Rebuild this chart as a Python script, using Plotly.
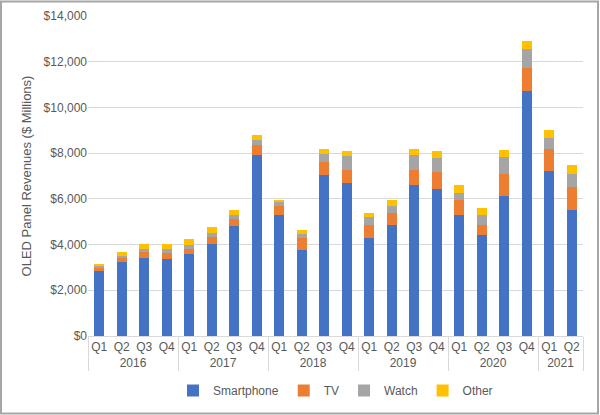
import plotly.graph_objects as go

years = ["2016"] * 4 + ["2017"] * 4 + ["2018"] * 4 + ["2019"] * 4 + ["2020"] * 4 + ["2021"] * 2
quarters = ["Q1", "Q2", "Q3", "Q4"] * 5 + ["Q1", "Q2"]

smartphone = [2840, 3235, 3425, 3365, 3600, 4040, 4800, 7940, 5280, 3745, 7030, 6710,
              4300, 4840, 6620, 6450, 5310, 4415, 6125, 10710, 7205, 5530]
tv = [175, 220, 245, 280, 220, 290, 320, 405, 425, 525, 570, 570,
      540, 555, 625, 725, 625, 455, 950, 1020, 965, 990]
watch = [45, 60, 150, 175, 175, 190, 190, 250, 160, 190, 380, 600,
         365, 290, 655, 630, 335, 405, 760, 830, 510, 555]
other = [105, 145, 218, 188, 245, 260, 190, 190, 105, 160, 200, 220,
         175, 250, 280, 305, 320, 305, 290, 340, 350, 425]

series = [("Smartphone", smartphone, "#4472C4"),
          ("TV", tv, "#ED7D31"),
          ("Watch", watch, "#A5A5A5"),
          ("Other", other, "#FFC000")]

fig = go.Figure()
for name, vals, col in series:
    fig.add_trace(go.Bar(x=[years, quarters], y=vals, name=name,
                         marker=dict(color=col, line=dict(width=0))))

W, H = 600, 415
ml, mr, mt, mb = 88, 17, 16, 79
pw, ph = W - ml - mr, H - mt - mb

fig.update_layout(
    width=W, height=H,
    barmode="stack", bargap=0.55,
    margin=dict(l=ml, r=mr, t=mt, b=mb, autoexpand=False),
    paper_bgcolor="white", plot_bgcolor="white",
    font=dict(family="Liberation Sans, Arial, sans-serif", size=12, color="#595959"),
    legend=dict(orientation="h", x=0.5, xanchor="center", y=-0.125, yanchor="top",
                font=dict(size=12, color="#595959"), itemwidth=30, traceorder="normal",
                tracegroupgap=0),
    xaxis=dict(type="multicategory", showline=True, linecolor="#d9d9d9", linewidth=1,
               showdividers=True, dividercolor="#d9d9d9", dividerwidth=1,
               tickangle=0, automargin=False,
               tickfont=dict(size=12, color="#595959"), ticks=""),
    yaxis=dict(range=[0, 14000], dtick=2000, tickprefix="$", tickformat=",",
               showgrid=True, gridcolor="#d9d9d9", gridwidth=1, zeroline=False,
               automargin=False,
               tickfont=dict(size=12, color="#595959"),
               title=dict(text="OLED Panel Revenues ($ Millions)",
                          font=dict(size=13, color="#595959"), standoff=9)),
    shapes=[dict(type="rect", xref="paper", yref="paper",
                 x0=(1 - ml) / pw, x1=(W - 2 - ml) / pw,
                 y0=-(mb - 1.5) / ph, y1=1 + (mt - 1.5) / ph,
                 line=dict(color="#a6a6a6", width=2))],
)

fig.write_html("out.html", config={"displayModeBar": False},
               post_script="document.body.style.margin='0';document.body.style.overflow='hidden';")
